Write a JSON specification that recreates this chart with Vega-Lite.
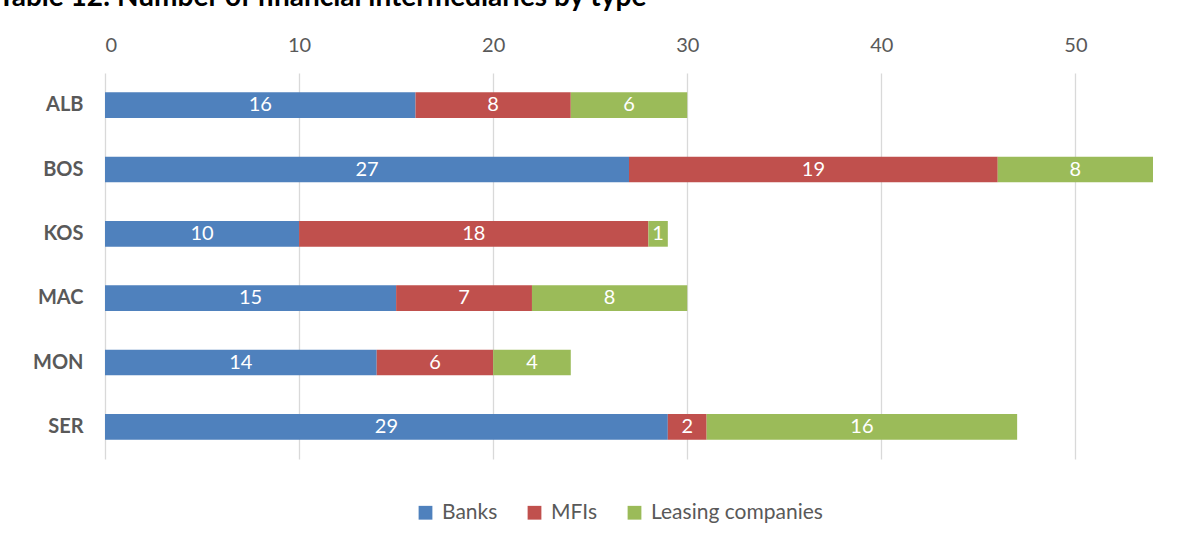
{
  "$schema": "https://vega.github.io/schema/vega-lite/v6.json",
  "autosize": {"type": "none"},
  "width": 1048,
  "height": 386,
  "padding": {"left": 105, "top": 73, "right": 47, "bottom": 79},
  "background": "white",
  "title": {
    "text": "Table 12: Number of financial intermediaries by type",
    "anchor": "start",
    "frame": "group",
    "dx": -107,
    "dy": -1,
    "fontSize": 28,
    "font": "Lato",
    "fontWeight": "bold",
    "color": "#000000",
    "baseline": "alphabetic",
    "offset": 0,
    "limit": 1200
  },
  "data": {
    "values": [
      {"country": "ALB", "type": "Banks", "value": 16},
      {"country": "ALB", "type": "MFIs", "value": 8},
      {"country": "ALB", "type": "Leasing companies", "value": 6},
      {"country": "BOS", "type": "Banks", "value": 27},
      {"country": "BOS", "type": "MFIs", "value": 19},
      {"country": "BOS", "type": "Leasing companies", "value": 8},
      {"country": "KOS", "type": "Banks", "value": 10},
      {"country": "KOS", "type": "MFIs", "value": 18},
      {"country": "KOS", "type": "Leasing companies", "value": 1},
      {"country": "MAC", "type": "Banks", "value": 15},
      {"country": "MAC", "type": "MFIs", "value": 7},
      {"country": "MAC", "type": "Leasing companies", "value": 8},
      {"country": "MON", "type": "Banks", "value": 14},
      {"country": "MON", "type": "MFIs", "value": 6},
      {"country": "MON", "type": "Leasing companies", "value": 4},
      {"country": "SER", "type": "Banks", "value": 29},
      {"country": "SER", "type": "MFIs", "value": 2},
      {"country": "SER", "type": "Leasing companies", "value": 16}
    ]
  },
  "transform": [
    {"calculate": "indexof(['Banks','MFIs','Leasing companies'], datum.type)", "as": "ord"},
    {"stack": "value", "groupby": ["country"], "sort": [{"field": "ord", "order": "ascending"}], "as": ["x0", "x1"]},
    {"calculate": "(datum.x0 + datum.x1) / 2", "as": "mid"}
  ],
  "encoding": {
    "y": {
      "field": "country",
      "type": "nominal",
      "sort": ["ALB", "BOS", "KOS", "MAC", "MON", "SER"],
      "scale": {"paddingInner": 0.6, "paddingOuter": 0.3},
      "axis": {
        "title": null,
        "domain": false,
        "ticks": false,
        "labelPadding": 22,
        "labelFont": "Lato",
        "labelFontSize": 20,
        "labelFontWeight": "bold",
        "labelColor": "#595959"
      }
    }
  },
  "layer": [
    {
      "mark": {"type": "bar"},
      "encoding": {
        "x": {
          "field": "x0",
          "type": "quantitative",
          "scale": {"domain": [0, 54], "nice": false},
          "axis": {
            "orient": "top",
            "title": null,
            "values": [0, 10, 20, 30, 40, 50],
            "domain": false,
            "ticks": false,
            "grid": true,
            "gridColor": "#d9d9d9",
            "gridWidth": 1.3,
            "labelPadding": 18,
            "labelFont": "Lato",
            "labelFontSize": 20,
            "labelColor": "#595959"
          }
        },
        "x2": {"field": "x1"},
        "color": {
          "field": "type",
          "type": "nominal",
          "scale": {
            "domain": ["Banks", "MFIs", "Leasing companies"],
            "range": ["#4F81BD", "#C0504D", "#9BBB59"]
          },
          "legend": {
            "orient": "none",
            "legendX": 310,
            "legendY": 429,
            "direction": "horizontal",
            "title": null,
            "symbolType": "square",
            "symbolSize": 190,
            "symbolStrokeWidth": 0,
            "labelFont": "Lato",
            "labelFontSize": 21,
            "labelColor": "#595959",
            "labelLimit": 400,
            "columnPadding": 26,
            "labelOffset": 6
          }
        }
      }
    },
    {
      "mark": {"type": "text", "color": "white", "font": "Lato", "fontSize": 20, "baseline": "middle", "align": "center"},
      "encoding": {
        "x": {"field": "mid", "type": "quantitative"},
        "text": {"field": "value", "type": "quantitative"}
      }
    }
  ],
  "config": {"view": {"stroke": null}}
}
